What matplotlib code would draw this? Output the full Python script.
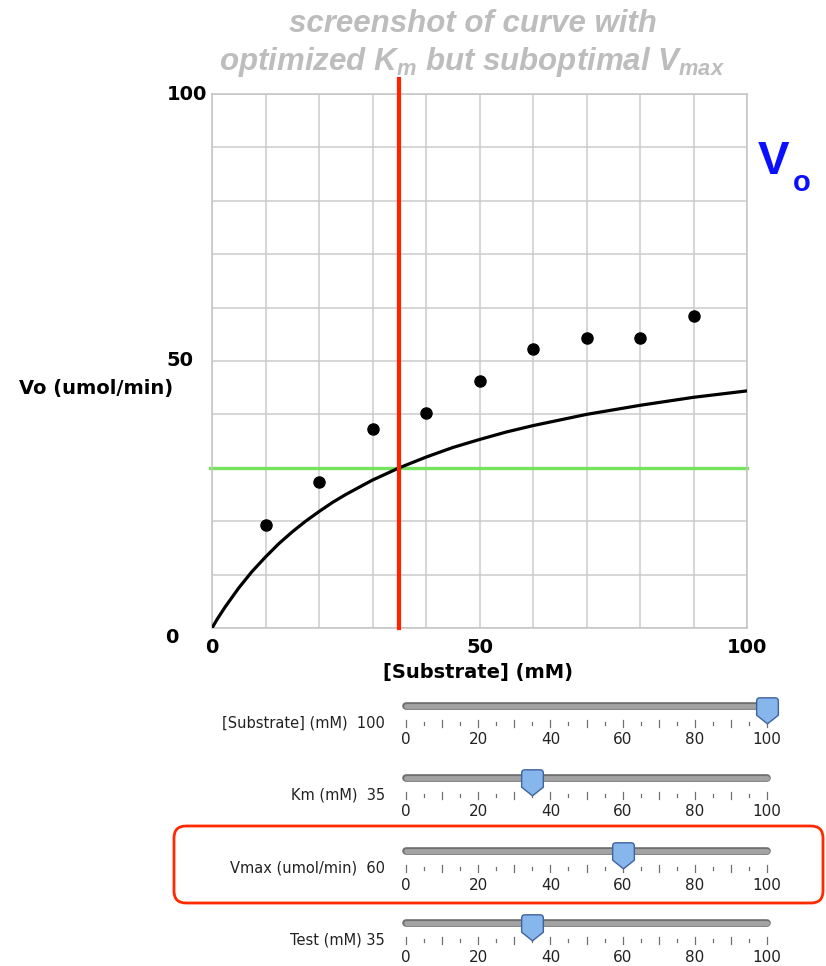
import numpy as np
import matplotlib
matplotlib.use('Agg')
import matplotlib.pyplot as plt
from matplotlib.path import Path
from matplotlib.patches import FancyBboxPatch
from matplotlib.transforms import IdentityTransform

# Data
substrate = [10, 20, 30, 40, 50, 60, 70, 80, 90]
vo_measured = [19.3, 27.3, 37.3, 40.3, 46.3, 52.3, 54.3, 54.3, 58.4]
curve_s = [0, 1, 2.5, 5, 7.5, 10, 12.5, 15, 17.5, 20, 22.5, 25, 30, 35, 40, 45,
           50, 55, 60, 70, 80, 90, 100]
curve_v = [0, 1.7, 4.0, 7.5, 10.6, 13.3, 15.8, 18.0, 20.0, 21.8, 23.5, 25.0, 27.7,
           30.0, 32.0, 33.8, 35.3, 36.7, 37.9, 40.0, 41.7, 43.2, 44.4]
km_value = 35
test_vo = 30
y_labels = [100, 50, 0]

slider_names = ['[Substrate] (mM)', 'Km (mM)', 'Vmax (umol/min)', 'Test (mM)']
slider_values = [100, 35, 60, 35]
slider_gaps = ['  ', '  ', '  ', ' ']
slider_ticks = list(range(0, 101, 5))
slider_ticklabels = [0, 20, 40, 60, 80, 100]

W, H = 826, 966
TITLE_GRAY = '#bdbdbd'


def px_rect(left, top, right, bottom):
    return [left / W, 1 - bottom / H, (right - left) / W, (bottom - top) / H]


fig = plt.figure(figsize=(W / 100, H / 100), dpi=100)
fig.patch.set_facecolor('white')

plt.rcParams['mathtext.fontset'] = 'custom'
plt.rcParams['mathtext.it'] = 'Liberation Sans:bold:italic'
plt.rcParams['mathtext.rm'] = 'Liberation Sans:bold:italic'
plt.rcParams['mathtext.bf'] = 'Liberation Sans:bold:italic'

# Title
title_kw = dict(ha='center', va='baseline', fontsize=22.5, fontweight='bold',
                style='italic', family='Liberation Sans', color=TITLE_GRAY)
fig.text(473 / W, 1 - 32 / H, 'screenshot of curve with', **title_kw)
fig.text(472 / W, 1 - 70 / H, r'optimized $K_m$ but suboptimal $V_{max}$', **title_kw)

# Main plot
ax = fig.add_axes(px_rect(212, 94, 747, 628))
ax.set_xlim(0, 100)
ax.set_ylim(0, 100)
ax.set_xticks(range(0, 101, 10))
ax.set_yticks(range(0, 101, 10))
ax.grid(color='#cccccc', lw=1.1)
ax.set_axisbelow(True)
for sp in ax.spines.values():
    sp.set_color('#c4c4c4')
    sp.set_linewidth(1.1)
ax.tick_params(length=0, labelleft=False, pad=7)
ax.set_xticklabels(['0' if t == 0 else '50' if t == 50 else '100' if t == 100 else ''
                    for t in range(0, 101, 10)], fontsize=14, fontweight='bold')

ax.axhline(test_vo, xmin=-0.004, xmax=1.0, color='#76e35c', lw=2.4, clip_on=False, zorder=2)
ax.plot(curve_s, curve_v, color='black', lw=2.3, solid_capstyle='round',
        solid_joinstyle='round', zorder=3)
ax.plot(substrate, vo_measured, 'o', color='black', ms=8, zorder=4)
ax.axvline(km_value, ymin=0, ymax=1.028, color='#ff2200', lw=3, clip_on=False, zorder=5)

# y labels are placed irregularly in the screenshot
ytr = ax.get_yaxis_transform()
ax.text(-0.009, y_labels[0], str(y_labels[0]), transform=ytr, ha='right', va='center',
        fontsize=14, fontweight='bold')
ax.text(-0.035, y_labels[1], str(y_labels[1]), transform=ytr, ha='right', va='center',
        fontsize=14, fontweight='bold')
ax.text(-0.062, y_labels[2], str(y_labels[2]), transform=ytr, ha='right', va='top',
        fontsize=14, fontweight='bold')

ax.set_ylabel('Vo (umol/min)', rotation=0, fontsize=14, fontweight='bold', ha='right', va='center')
ax.yaxis.set_label_coords(-0.073, 0.449)
ax.set_xlabel('[Substrate] (mM)', fontsize=14, fontweight='bold')
ax.xaxis.set_label_coords(0.497, -0.084)
ax.xaxis.label.set_va('center')

# Vo marker on the right
fig.text(758 / W, 1 - 174 / H, 'V', fontsize=34, fontweight='bold', family='Liberation Sans',
         color='#0a10ff', va='baseline')
fig.text(793 / W, 1 - 191 / H, 'o', fontsize=21, fontweight='bold', family='Liberation Sans',
         color='#0a10ff', va='baseline')

# Slider thumb shape (pixels, y up, origin at track centre)
thumb_verts = [(-10, -8), (-10, 5), (-10, 8), (-7, 8), (7, 8), (10, 8), (10, 5),
               (10, -8), (0, -16), (-10, -8), (-10, -8)]
thumb_codes = [Path.MOVETO, Path.LINETO, Path.CURVE3, Path.CURVE3, Path.LINETO,
               Path.CURVE3, Path.CURVE3, Path.LINETO, Path.LINETO, Path.LINETO,
               Path.CLOSEPOLY]
thumb = Path(thumb_verts, thumb_codes)

slider_rows = [706, 778, 851, 923]
for name, val, gap, ty in zip(slider_names, slider_values, slider_gaps, slider_rows):
    sax = fig.add_axes(px_rect(406, ty - 30, 767, ty + 45))
    sax.set_xlim(0, 100)
    sax.set_ylim(45, -30)
    sax.axis('off')
    sax.plot([0, 100], [0, 0], color='#6f6f6f', lw=5.5, solid_capstyle='round', clip_on=False)
    sax.plot([0, 100], [0, 0], color='#a3a3a3', lw=3.5, solid_capstyle='round', clip_on=False)
    for t in slider_ticks:
        if t % 10 == 0:
            sax.plot([t, t], [14, 21], color='#707070', lw=0.9, clip_on=False)
        else:
            sax.plot([t, t], [15.5, 19], color='#707070', lw=0.9, clip_on=False)
    for t in slider_ticklabels:
        sax.text(t, 34, str(t), ha='center', va='center', fontsize=11, color='#222222')
    sax.text(-0.058, 17, f'{name}{gap}{val}', transform=sax.get_yaxis_transform(),
             ha='right', va='center', fontsize=10.5, color='#222222')
    sax.plot([val], [0], marker=thumb, ms=25, mfc='#86b6ec', mec='#3f62a0', mew=1,
             clip_on=False, zorder=5)

# red highlight box around the Vmax slider
box = FancyBboxPatch((174, H - 903), 649, 77, boxstyle='round,pad=0,rounding_size=12',
                     transform=IdentityTransform(), fill=False, ec='#ff2a00', lw=2)
fig.add_artist(box)

fig.savefig('out.png', dpi=100)
